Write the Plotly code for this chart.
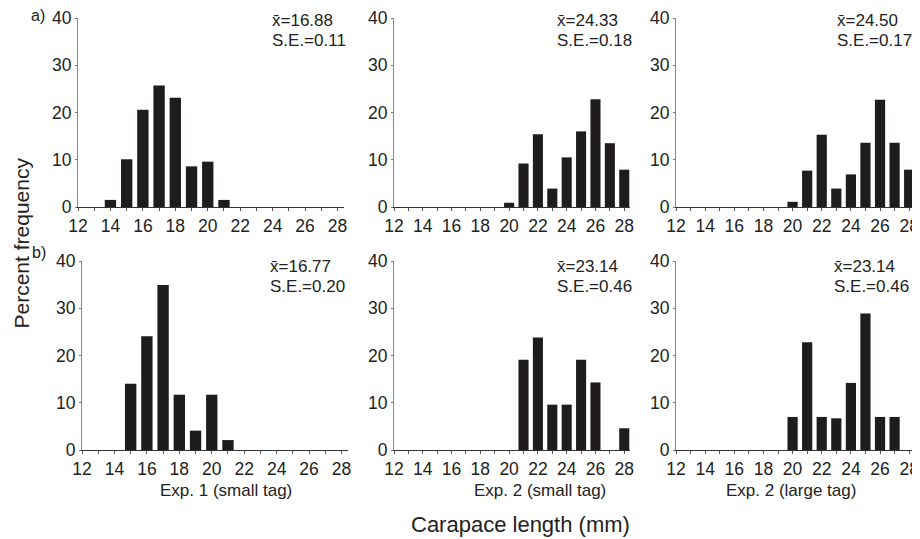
import plotly.graph_objects as go

# ---- data ----
lengths = list(range(12, 29))
exp1_small_a = [0, 0, 1.5, 10.1, 20.6, 25.7, 23.1, 8.6, 9.6, 1.5, 0, 0, 0, 0, 0, 0, 0]
exp2_small_a = [0, 0, 0, 0, 0, 0, 0, 0, 0.9, 9.2, 15.4, 3.9, 10.5, 16.0, 22.8, 13.5, 7.9]
exp2_large_a = [0, 0, 0, 0, 0, 0, 0, 0, 1.1, 7.7, 15.3, 3.9, 6.9, 13.6, 22.7, 13.6, 7.9]
exp1_small_b = [0, 0, 0, 14.0, 24.1, 34.9, 11.7, 4.1, 11.7, 2.1, 0, 0, 0, 0, 0, 0, 0]
exp2_small_b = [0, 0, 0, 0, 0, 0, 0, 0, 0, 19.1, 23.8, 9.6, 9.6, 19.1, 14.3, 0, 4.6]
exp2_large_b = [0, 0, 0, 0, 0, 0, 0, 0, 7.0, 22.8, 7.0, 6.7, 14.2, 28.9, 7.0, 7.0, 0]

x_tick_vals = list(range(12, 29, 2))
y_tick_vals = [0, 10, 20, 30, 40]

means = ["16.88", "24.33", "24.50", "16.77", "23.14", "23.14"]
ses = ["0.11", "0.18", "0.17", "0.20", "0.46", "0.46"]
exp_labels = ["Exp. 1 (small tag)", "Exp. 2 (small tag)", "Exp. 2 (large tag)"]

series = [exp1_small_a, exp2_small_a, exp2_large_a, exp1_small_b, exp2_small_b, exp2_large_b]

# the page body has an 8px margin: size the figure so it fills the window
OFF = 8
W, H = 920 - OFF, 539 - OFF
FONT = "Liberation Sans, Arial, sans-serif"
TXT = "#222222"


def px(x):
    return (x - OFF) / W


def py(y):
    return 1 - (y - OFF) / H


# panel boxes in window pixels: (x_left, x_right, y_top, y_bottom)
boxes = [
    (78, 344, 18, 207),
    (394, 630, 18, 207),
    (676, 915, 18, 207),
    (82, 348, 261, 450),
    (394, 630, 261, 450),
    (676, 915, 261, 450),
]

fig = go.Figure()
layout = dict(
    width=W, height=H,
    margin=dict(l=0, r=0, t=0, b=0, pad=0, autoexpand=False),
    paper_bgcolor="white", plot_bgcolor="white",
    showlegend=False,
    font=dict(family=FONT, color=TXT, size=16),
)

for i, (vals, box) in enumerate(zip(series, boxes)):
    n = i + 1
    xa = "x" if n == 1 else f"x{n}"
    ya = "y" if n == 1 else f"y{n}"
    fig.add_trace(go.Bar(
        x=lengths, y=vals, xaxis=xa, yaxis=ya,
        width=0.7,
        marker=dict(color="#1e1c1c", line=dict(width=0)),
    ))
    xl, xr, yt, yb = box
    layout[f"xaxis{n}"] = dict(
        domain=[px(xl), px(xr)], anchor=ya, range=[12, 28.4],
        tickmode="array", tickvals=x_tick_vals, automargin=False,
        ticks="outside", ticklen=3, tickwidth=1, tickcolor="#555",
        showline=True, linecolor="#333", linewidth=1.2,
        showgrid=False, zeroline=False,
        tickfont=dict(size=17.5, color=TXT, family=FONT),
        minor=dict(ticks="outside", dtick=1, tick0=12, ticklen=3, tickcolor="#555", showgrid=False),
    )
    layout[f"yaxis{n}"] = dict(
        domain=[py(yb), py(yt)], anchor=xa, range=[0, 40],
        tickmode="array", tickvals=y_tick_vals, automargin=False,
        ticks="outside", ticklen=2, tickwidth=1, tickcolor="#777",
        showline=True, linecolor="#888", linewidth=1,
        showgrid=False, zeroline=False,
        tickfont=dict(size=17.5, color=TXT, family=FONT),
    )

fig.update_layout(**layout)

annots = []
stat_pos = [(270, 20, 41), (555, 20, 41), (835, 20, 41),
            (268, 266, 286), (555, 266, 286), (832, 266, 286)]
for (sx, y1, y2), m, s in zip(stat_pos, means, ses):
    annots.append(dict(x=px(sx), y=py(y1), xref="paper", yref="paper",
                       text="x\u0304=" + m, showarrow=False, xanchor="left", yanchor="middle",
                       font=dict(size=17, color=TXT, family=FONT)))
    annots.append(dict(x=px(sx), y=py(y2), xref="paper", yref="paper",
                       text="S.E.=" + s, showarrow=False, xanchor="left", yanchor="middle",
                       font=dict(size=17, color=TXT, family=FONT)))

for cx, lab in zip([226, 540, 791], exp_labels):
    annots.append(dict(x=px(cx), y=py(491), xref="paper", yref="paper",
                       text=lab, showarrow=False, xanchor="center", yanchor="middle",
                       font=dict(size=17, color=TXT, family=FONT)))

annots.append(dict(x=px(520), y=py(524), xref="paper", yref="paper",
                   text="Carapace length (mm)", showarrow=False, xanchor="center", yanchor="middle",
                   font=dict(size=22, color=TXT, family=FONT)))
annots.append(dict(x=0, y=py(243), xref="paper", yref="paper",
                   text="Percent frequency", showarrow=False, textangle=-90,
                   xanchor="left", yanchor="middle",
                   font=dict(size=21, color=TXT, family=FONT)))
annots.append(dict(x=px(38), y=py(15), xref="paper", yref="paper",
                   text="a)", showarrow=False, xanchor="center", yanchor="middle",
                   font=dict(size=16, color=TXT, family=FONT)))
annots.append(dict(x=px(39), y=py(253), xref="paper", yref="paper",
                   text="b)", showarrow=False, xanchor="center", yanchor="middle",
                   font=dict(size=16, color=TXT, family=FONT)))

fig.update_layout(annotations=annots)
fig.write_html("out.html")
